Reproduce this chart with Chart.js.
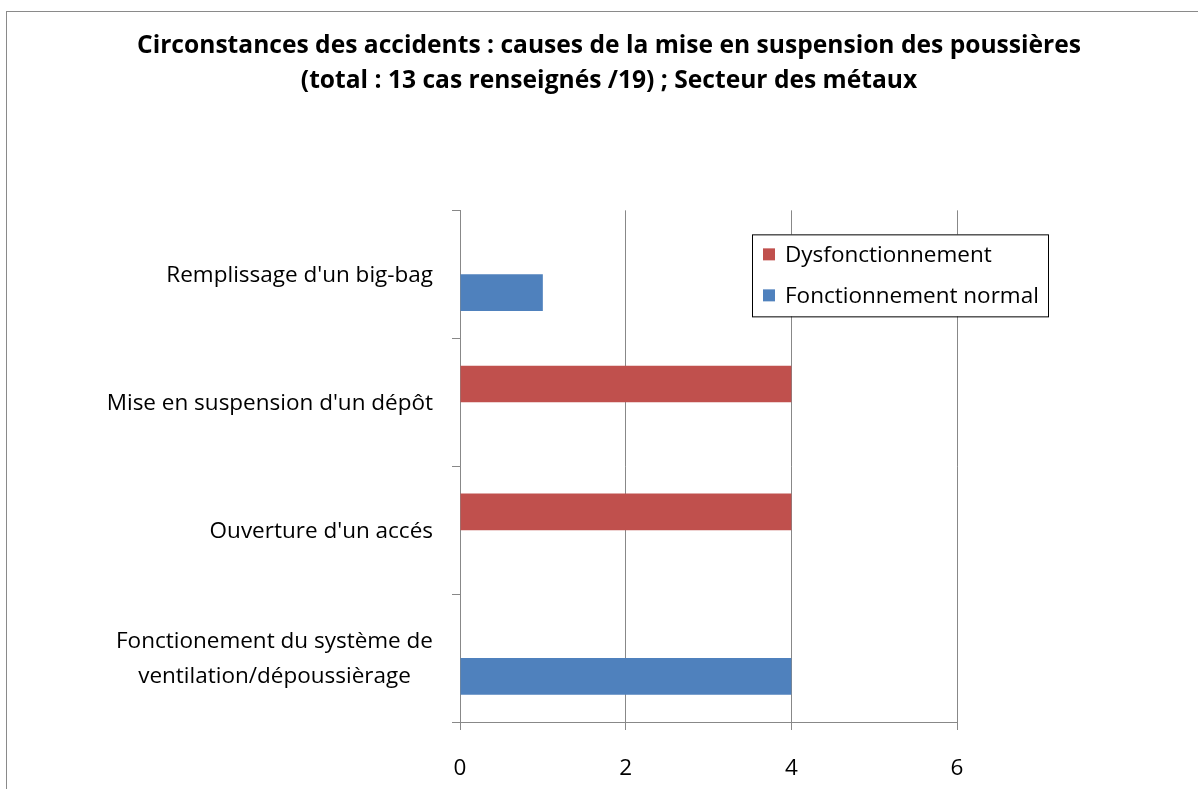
<!DOCTYPE html>
<html>
<head>
<meta charset="utf-8">
<script src="https://cdn.jsdelivr.net/npm/chart.js@4.4.1/dist/chart.umd.min.js"></script>
<style>
  html, body { margin: 0; padding: 0; background: #fff; overflow: hidden; }
  #frame { position: absolute; left: 6px; top: 11px; width: 1204px; height: 790px; border: 1px solid #8a8a8a; }
  #myChart { display: block; }
</style>
</head>
<body>
<div id="frame"><canvas id="myChart" width="1204" height="790"></canvas></div>
<script>
/* globals Chart:false */

// Data
const categories = [
  ["Remplissage d'un big-bag"],
  ["Mise en suspension d'un dépôt"],
  ["Ouverture d'un accés"],
  ["Fonctionement du système de", "ventilation/dépoussièrage"]
];
const dysfonctionnement = [0, 4, 4, 0];
const fonctionnementNormal = [1, 0, 0, 4];
const seriesNames = ['Dysfonctionnement', 'Fonctionnement normal'];
const xTicks = [0, 2, 4, 6];
const titleLines = [
  'Circonstances des accidents : causes de la mise en suspension des poussières',
  '(total : 13 cas renseignés /19) ; Secteur des métaux'
];

const FONT = '"Open Sans", Lato, sans-serif';
const LABEL_SIZE = 22.5;
const GRID = '#888888';
const RED = '#C0504D';
const BLUE = '#4F81BD';

(() => {
  'use strict';

  // y labels: right edge fixed, lines of a label centred on each other (like Excel)
  const catLabels = {
    id: 'catLabels',
    afterDraw(chart) {
      const c = chart.ctx;
      const yScale = chart.scales.y;
      const right = chart.chartArea.left - 27;
      const lh = 35;
      c.save();
      c.font = LABEL_SIZE + 'px ' + FONT;
      c.fillStyle = '#000';
      c.textAlign = 'center';
      c.textBaseline = 'middle';
      categories.forEach((lines, i) => {
        const w = Math.max(...lines.map(l => c.measureText(l).width));
        const cy = yScale.getPixelForValue(i) + 1;
        const y0 = cy - (lines.length - 1) * lh / 2;
        lines.forEach((l, j) => c.fillText(l, right - w / 2, y0 + j * lh));
      });
      c.restore();
    }
  };

  // boxed legend inside the plot, like the original
  const boxLegend = {
    id: 'boxLegend',
    afterDraw(chart) {
      const c = chart.ctx;
      const a = chart.chartArea;
      const x = a.left + 292, y = a.top + 24, w = 296, h = 82;
      c.save();
      c.fillStyle = '#fff';
      c.fillRect(x, y, w, h);
      c.strokeStyle = '#000';
      c.lineWidth = 1;
      c.strokeRect(x + 0.5, y + 0.5, w, h);
      c.font = LABEL_SIZE + 'px ' + FONT;
      c.textBaseline = 'middle';
      chart.data.datasets.forEach((ds, i) => {
        const cy = y + 20 + i * 41;
        c.fillStyle = ds.backgroundColor;
        c.fillRect(x + 11, cy - 6, 12, 12);
        c.fillStyle = '#000';
        c.fillText(ds.label, x + 33, cy + 1);
      });
      c.restore();
    }
  };

  const ctx = document.getElementById('myChart');
  // eslint-disable-next-line no-unused-vars
  const myChart = new Chart(ctx, {
    type: 'bar',
    data: {
      labels: categories,
      datasets: [{
        label: seriesNames[0],
        data: dysfonctionnement,
        backgroundColor: RED,
        borderWidth: 0
      }, {
        label: seriesNames[1],
        data: fonctionnementNormal,
        backgroundColor: BLUE,
        borderWidth: 0
      }]
    },
    plugins: [catLabels, boxLegend],
    options: {
      indexAxis: 'y',
      responsive: false,
      animation: false,
      categoryPercentage: 0.572,
      barPercentage: 1,
      layout: {
        padding: { left: 0, right: 0, top: 0, bottom: 20 }
      },
      scales: {
        x: {
          min: 0,
          max: 6,
          afterBuildTicks: (scale) => { scale.ticks = xTicks.map(v => ({ value: v })); },
          afterFit: (scale) => { scale.height = 60; },
          border: { display: true, color: GRID, width: 1 },
          grid: { color: GRID, lineWidth: 1, tickLength: 8, drawTicks: true },
          ticks: {
            color: '#000',
            padding: 25,
            font: { family: FONT, size: LABEL_SIZE }
          }
        },
        y: {
          afterFit: (scale) => { scale.width = 453; },
          border: { display: true, color: GRID, width: 1 },
          grid: { offset: true, drawOnChartArea: false, color: GRID, tickLength: 8 },
          ticks: { display: false }
        },
        // empty space on the right so the title stays centred on the whole canvas
        yr: {
          type: 'linear',
          position: 'right',
          afterFit: (scale) => { scale.width = 254; },
          border: { display: false },
          grid: { display: false },
          ticks: { display: false }
        }
      },
      plugins: {
        legend: { display: false },
        tooltip: { enabled: false },
        title: {
          display: true,
          text: titleLines,
          color: '#000',
          font: { family: FONT, size: 24.6, weight: 'bold', lineHeight: 1.43 },
          padding: { top: 16, bottom: 112 }
        }
      }
    }
  });
})();
</script>
</body>
</html>
